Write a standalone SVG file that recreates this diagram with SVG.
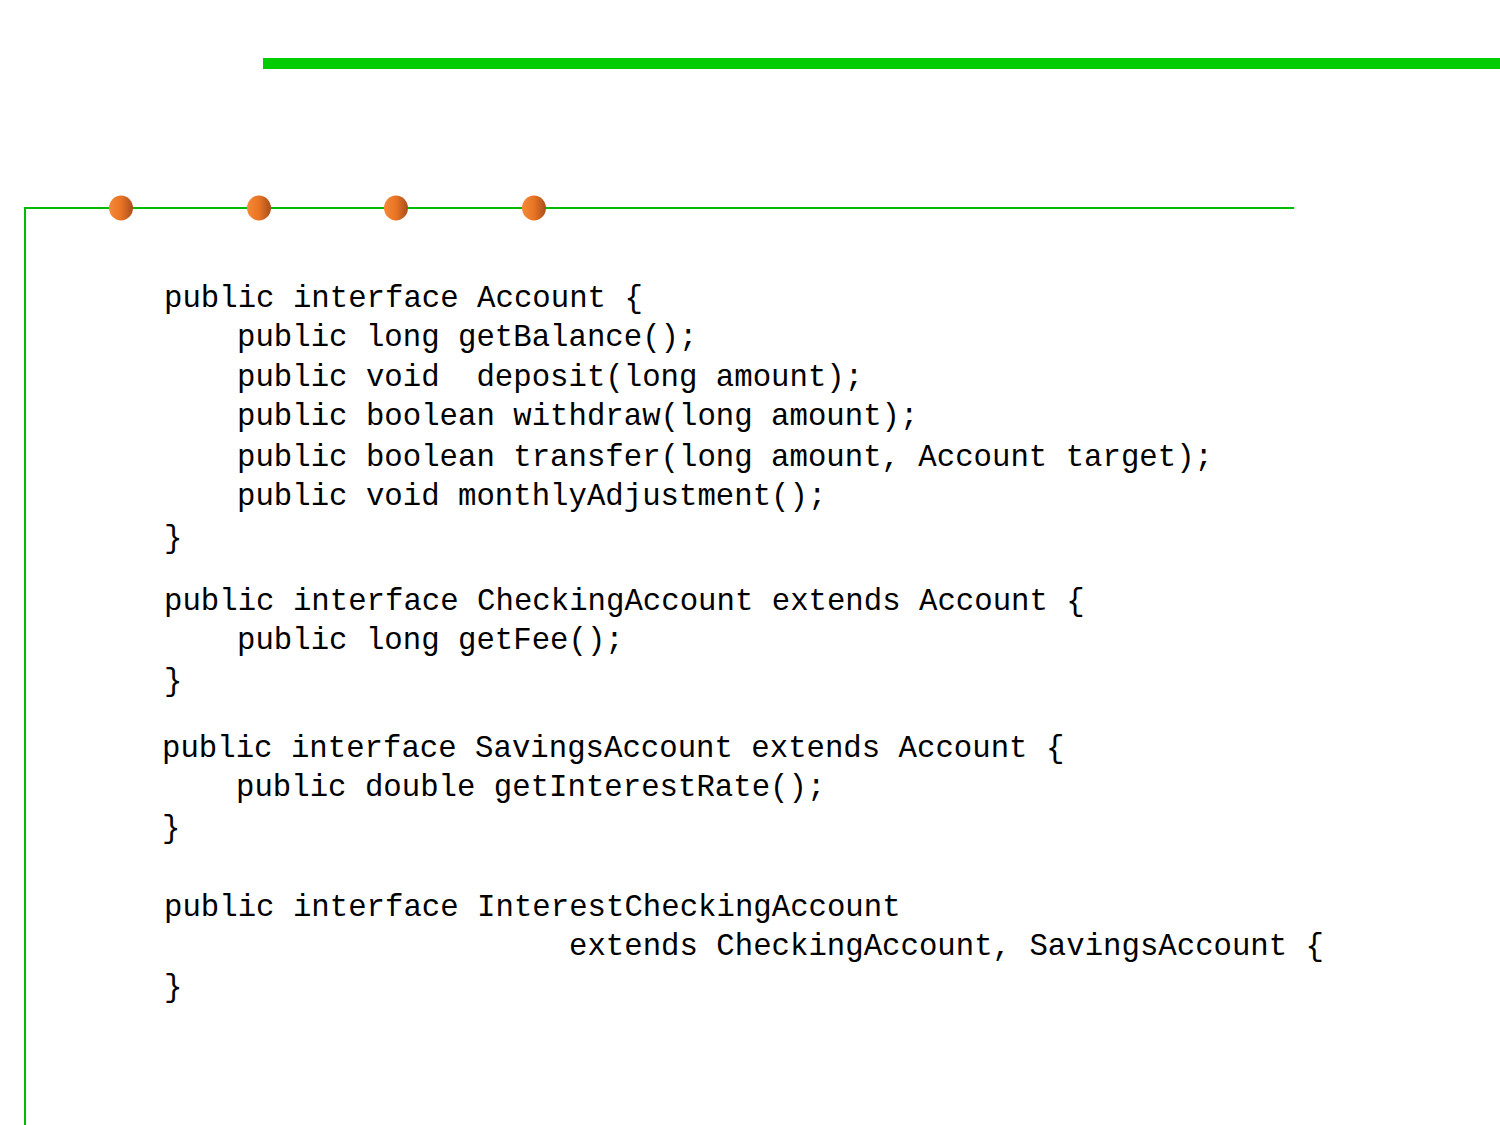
<svg xmlns="http://www.w3.org/2000/svg" width="1500" height="1125" viewBox="0 0 1500 1125">
<defs>
<linearGradient id="ball" x1="0" y1="0" x2="1" y2="0">
<stop offset="0" stop-color="#f48a38"/>
<stop offset="0.5" stop-color="#e87424"/>
<stop offset="1" stop-color="#a84e1c"/>
</linearGradient>
<style>
.code{font-family:"Liberation Mono","DejaVu Sans Mono",monospace;font-size:30.7px;fill:#000;white-space:pre}
</style>
</defs>
<rect width="1500" height="1125" fill="#fff"/>
<g id="frame">
<rect x="263" y="58" width="1237" height="11" fill="#00cc00"/>
<path d="M1294 208 H25 V1125" fill="none" stroke="#00bb00" stroke-width="2"/>
<ellipse cx="121" cy="208" rx="12" ry="12.5" fill="url(#ball)"/>
<ellipse cx="259" cy="208" rx="12" ry="12.5" fill="url(#ball)"/>
<ellipse cx="396" cy="208" rx="12" ry="12.5" fill="url(#ball)"/>
<ellipse cx="534" cy="208" rx="12" ry="12.5" fill="url(#ball)"/>
</g>
<g id="code" class="code">
<text x="164" y="307" xml:space="preserve">public interface Account {</text>
<text x="237" y="346" xml:space="preserve">public long getBalance();</text>
<text x="237" y="386" xml:space="preserve">public void  deposit(long amount);</text>
<text x="237" y="425" xml:space="preserve">public boolean withdraw(long amount);</text>
<text x="237" y="466" xml:space="preserve">public boolean transfer(long amount, Account target);</text>
<text x="237" y="505" xml:space="preserve">public void monthlyAdjustment();</text>
<text x="164" y="547">}</text>
<text x="164" y="610" xml:space="preserve">public interface CheckingAccount extends Account {</text>
<text x="237" y="649" xml:space="preserve">public long getFee();</text>
<text x="164" y="690">}</text>
<text x="162" y="757" xml:space="preserve">public interface SavingsAccount extends Account {</text>
<text x="236" y="796" xml:space="preserve">public double getInterestRate();</text>
<text x="162" y="837">}</text>
<text x="164" y="916" xml:space="preserve">public interface InterestCheckingAccount</text>
<text x="569" y="955" xml:space="preserve">extends CheckingAccount, SavingsAccount {</text>
<text x="164" y="996">}</text>
</g>
</svg>
